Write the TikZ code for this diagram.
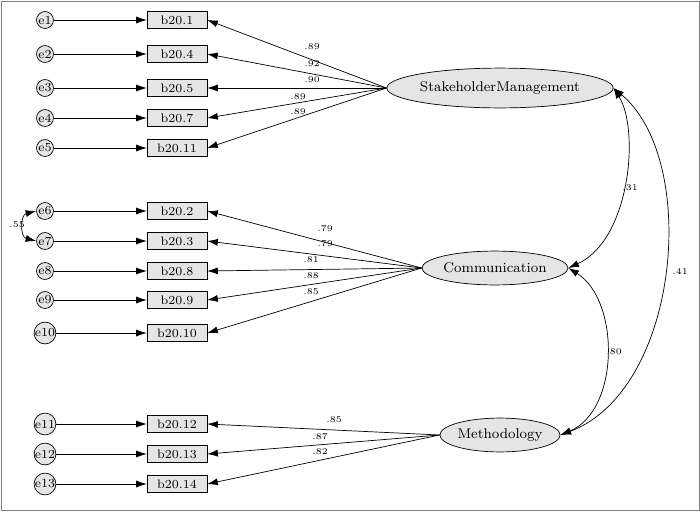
\documentclass[tikz,border=0pt]{standalone}
\usetikzlibrary{arrows.meta}
\tikzset{
  err/.style={circle,draw,fill=gray!20,inner sep=0pt,minimum size=17\unitpx,font=\fontsize{7}{8}\selectfont},
  obs/.style={rectangle,draw,fill=gray!20,minimum width=60\unitpx,minimum height=17\unitpx,inner sep=0pt,font=\fontsize{7}{8}\selectfont},
  lat/.style={ellipse,draw,fill=gray!20,inner sep=0pt,font=\fontsize{8}{9}\selectfont},
  path/.style={-{Latex[length=6pt,width=4pt]},thin},
  cov/.style={{Latex[length=6pt,width=4pt]}-{Latex[length=6pt,width=4pt]},thin},
  est/.style={font=\fontsize{5}{6}\selectfont,inner sep=1pt}
}
\usetikzlibrary{shapes.geometric}
\newcommand{\unitpx}{pt*0.567}
\begin{document}
\begin{tikzpicture}[x=0.02cm,y=-0.02cm]
\draw[gray] (1,1) rectangle (699,510);
\useasboundingbox (0,0) rectangle (700,511);
% latent variables
\node[lat,minimum width=190\unitpx,minimum height=40\unitpx] (sm) at (500,88) {StakeholderManagement};
\node[lat,minimum width=130\unitpx,minimum height=34\unitpx] (com) at (495,268) {Communication};
\node[lat,minimum width=110\unitpx,minimum height=34\unitpx] (met) at (500,435) {Methodology};
% indicators
\foreach \n/\b/\y/\l/\lx/\ly in {1/b20.1/20/.89/312/47, 2/b20.4/54/.92/312/64, 3/b20.5/88/.90/312/80, 4/b20.7/118/.89/298/97, 5/b20.11/148/.89/298/112}{
  \node[err] (e\n) at (45,\y) {e\n};
  \node[obs] (b\n) at (177,\y) {\b};
  \draw[path] (e\n) -- (b\n);
  \draw[path] (sm.west) -- (b\n.east);
  \node[est] at (\lx,\ly) {\l};
}
\foreach \n/\b/\y/\l/\lx/\ly in {6/b20.2/211/.79/325/229, 7/b20.3/241/.79/325/244, 8/b20.8/271/.81/311/260, 9/b20.9/300/.88/311/276, 10/b20.10/333/.85/311/292}{
  \node[err] (e\n) at (45,\y) {e\n};
  \node[obs] (b\n) at (177,\y) {\b};
  \draw[path] (e\n) -- (b\n);
  \draw[path] (com.west) -- (b\n.east);
  \node[est] at (\lx,\ly) {\l};
}
\foreach \n/\b/\y/\l/\lx/\ly in {11/b20.12/424/.85/334/420, 12/b20.13/454/.87/320/437, 13/b20.14/484/.82/320/452}{
  \node[err] (e\n) at (45,\y) {e\n};
  \node[obs] (b\n) at (177,\y) {\b};
  \draw[path] (e\n) -- (b\n);
  \draw[path] (met.west) -- (b\n.east);
  \node[est] at (\lx,\ly) {\l};
}
% covariances
\draw[cov] (e6.west) .. controls (20,215) and (20,237) .. (e7.west);
\node[est] at (17,225) {.55};
\draw[cov] (sm.east) .. controls (640,130) and (630,240) .. (com.east);
\node[est] at (630,188) {.31};
\draw[cov] (com.east) .. controls (620,300) and (620,410) .. (met.east);
\node[est] at (614,352) {.80};
\draw[cov] (sm.east) .. controls (700,160) and (680,390) .. (met.east);
\node[est] at (680,272) {.41};
\end{tikzpicture}
\end{document}
